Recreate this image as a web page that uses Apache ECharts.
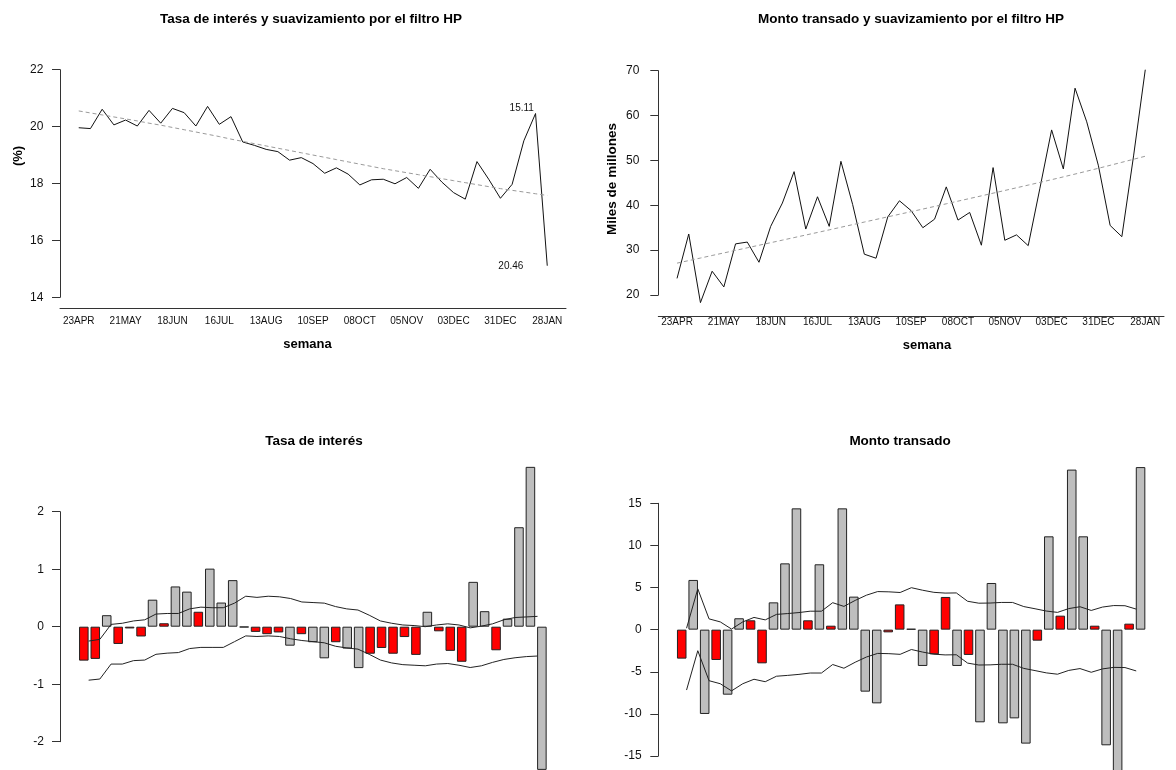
<!DOCTYPE html>
<html><head><meta charset="utf-8">
<script src="https://cdn.jsdelivr.net/npm/echarts@6/dist/echarts.min.js"></script>
<style>html,body{margin:0;padding:0;background:#fff}#c{width:1176px;height:770px}</style>
</head><body><div id="c"></div>
<script>
// Tick labels (every 4 weeks)
const tickLabels = ['23APR','21MAY','18JUN','16JUL','13AUG','10SEP','08OCT','05NOV','03DEC','31DEC','28JAN'];
const tickStep = 4;

// Tasa de interés (%) y tendencia HP
const tasa = [19.96,19.93,20.61,20.06,20.23,20.02,20.57,20.12,20.64,20.49,20.02,20.71,20.08,20.35,19.46,19.34,19.20,19.12,18.82,18.91,18.70,18.36,18.55,18.33,17.95,18.13,18.15,17.99,18.21,17.83,18.50,18.05,17.68,17.45,18.77,18.15,17.48,17.97,19.50,20.46,15.11];
const tasaHP = [20.55,20.48,20.41,20.34,20.27,20.20,20.12,20.05,19.97,19.89,19.81,19.73,19.65,19.56,19.48,19.40,19.32,19.24,19.16,19.08,19.00,18.92,18.84,18.76,18.68,18.60,18.52,18.45,18.38,18.31,18.24,18.17,18.10,18.03,17.96,17.89,17.82,17.76,17.70,17.64,17.58];

// Monto transado (miles de millones) y tendencia HP
const monto = [23.7,33.6,18.3,25.3,21.8,31.4,31.8,27.3,35.3,40.5,47.5,34.7,41.9,35.3,49.8,40.2,29.1,28.2,37.4,41.0,38.8,35.0,36.9,44.1,36.7,38.4,31.1,48.4,32.2,33.4,31.0,43.8,56.8,48.1,66.1,58.6,48.8,35.5,33.0,51.0,70.22];
const montoHP = [27.10,27.67,28.24,28.81,29.38,29.95,30.52,31.09,31.66,32.23,32.80,33.37,33.94,34.52,35.10,35.68,36.26,36.84,37.42,38.00,38.58,39.16,39.74,40.33,40.92,41.51,42.10,42.70,43.30,43.90,44.50,45.10,45.71,46.33,46.96,47.60,48.25,48.91,49.58,50.26,50.93];

// Ciclo de la tasa y bandas
const cicloTasa = [-0.59,-0.56,0.20,-0.30,-0.03,-0.17,0.47,0.06,0.70,0.61,0.26,1.01,0.42,0.81,-0.01,-0.09,-0.13,-0.10,-0.33,-0.13,-0.27,-0.55,-0.27,-0.38,-0.72,-0.47,-0.37,-0.47,-0.18,-0.49,0.26,-0.08,-0.42,-0.61,0.78,0.27,-0.41,0.14,1.73,2.78,-2.49];
const bandaTasaSup = [-0.25,-0.22,0.04,0.06,0.10,0.12,0.22,0.23,0.23,0.31,0.34,0.33,0.33,0.41,0.53,0.51,0.53,0.52,0.49,0.43,0.42,0.41,0.35,0.31,0.29,0.20,0.10,0.06,0.03,0.02,0.00,0.03,0.05,0.03,-0.02,0.01,0.05,0.12,0.16,0.17,0.18];
const bandaTasaInf = [-0.93,-0.91,-0.65,-0.65,-0.59,-0.58,-0.48,-0.46,-0.45,-0.38,-0.36,-0.36,-0.36,-0.26,-0.16,-0.17,-0.16,-0.17,-0.21,-0.24,-0.26,-0.28,-0.34,-0.37,-0.39,-0.48,-0.58,-0.63,-0.66,-0.67,-0.68,-0.65,-0.64,-0.67,-0.71,-0.68,-0.62,-0.57,-0.54,-0.52,-0.51];
const fueraTasa = [2,6,8,9,11,12,13,18,20,21,23,24,30,34,35,37,38,39,40];

// Ciclo del monto y bandas
const cicloMonto = [-3.44,5.90,-10.01,-3.60,-7.72,1.35,1.11,-4.00,3.24,7.87,14.40,1.11,7.76,0.47,14.40,3.92,-7.36,-8.75,-0.32,3.00,0.10,-4.31,-2.93,3.88,-4.31,-3.00,-11.00,5.54,-11.12,-10.53,-13.53,-1.31,11.08,1.66,19.00,11.08,0.47,-13.73,-16.80,0.71,19.30];
const bandaMontoSup = [0.17,4.84,1.28,0.92,0.07,0.92,1.45,1.16,1.81,1.91,2.03,2.19,2.19,3.20,2.76,3.47,4.09,4.52,4.49,4.41,4.98,4.68,4.43,4.34,4.36,3.37,3.14,3.16,3.23,3.23,2.74,2.48,2.21,2.05,2.50,2.72,2.28,2.68,2.86,2.84,2.44];
const bandaMontoInf = [-7.17,-2.50,-6.06,-6.42,-7.27,-6.42,-5.89,-6.18,-5.53,-5.43,-5.31,-5.15,-5.15,-4.14,-4.58,-3.87,-3.25,-2.82,-2.85,-2.93,-2.36,-2.66,-2.91,-3.00,-2.98,-3.97,-4.20,-4.18,-4.11,-4.11,-4.60,-4.86,-5.13,-5.29,-4.84,-4.62,-5.06,-4.66,-4.48,-4.50,-4.90];
const fueraMonto = [1,2,4,5,8,9,10,12,14,15,16,17,21,24,26,27,28,29,30,32,34,35,37,38,40];

// ---------- build ----------
const idx = a => a.map((v, i) => [i, v]);
const bandPts = a => a.map((v, j) => [0.42 + 0.98 * j, v]);
const dentro = (a, f) => a.map((v, i) => f.includes(i) ? null : v);
const fuera = (a, f) => a.map((v, i) => f.includes(i) ? v : null);
const cats = cicloTasa.map((_, i) => String(i));
const tickVals = tickLabels.map((_, k) => k * tickStep);

const FONT = "'Liberation Sans', Arial, sans-serif";
const AX = '#333';

function topX(grid, offset, margin) {
  return {
    type: 'value', gridIndex: grid, min: -1.6, max: 41.6, offset: offset,
    axisLine: { show: true, onZero: false, lineStyle: { color: AX, width: 1 } },
    axisTick: { show: false }, splitLine: { show: false },
    axisLabel: { customValues: tickVals, formatter: v => tickLabels[Math.round(v / tickStep)], margin: margin,
      fontFamily: FONT, fontSize: 10, color: '#111' }
  };
}
function yAx(grid, min, max, interval, offset, margin) {
  return {
    type: 'value', gridIndex: grid, min: min, max: max, interval: interval, offset: offset,
    axisLine: { show: true, onZero: false, lineStyle: { color: AX, width: 1 } },
    axisTick: { show: true, length: 8, lineStyle: { color: AX } },
    splitLine: { show: false },
    axisLabel: { margin: margin, fontFamily: FONT, fontSize: 12, color: '#111' }
  };
}
const hiddenCat = g => ({ type: 'category', gridIndex: g, data: cats, show: false, boundaryGap: true });
const hiddenVal = g => ({ type: 'value', gridIndex: g, min: -0.5, max: 40.5, show: false, splitLine: { show: false } });

function lineS(x, y, data, color, dash) {
  return { type: 'line', xAxisIndex: x, yAxisIndex: y, data: data, symbol: 'none', clip: false, silent: true,
    lineStyle: { color: color, width: 1, type: dash || 'solid' } };
}
function barS(x, y, data, color) {
  return { type: 'bar', xAxisIndex: x, yAxisIndex: y, data: data, barWidth: '83.3%', barGap: '-100%', clip: false, silent: true,
    itemStyle: { color: color, borderColor: '#222', borderWidth: 1 } };
}
function mp(items) {
  return { symbol: 'circle', symbolSize: 0, silent: true,
    label: { show: true, position: 'inside', formatter: p => p.name, fontFamily: FONT, fontSize: 10, color: '#111' },
    data: items.map(it => ({ name: it.t, coord: it.c })) };
}

const tasaLine = lineS(0, 0, idx(tasa), '#111');
tasaLine.markPoint = mp([
  { t: tasa[tasa.length - 1].toFixed(2), c: [37.82, 20.66] },
  { t: tasa[tasa.length - 2].toFixed(2), c: [36.89, 15.08] }
]);
const montoLine = lineS(1, 1, idx(monto), '#111');
montoLine.markPoint = mp([
  { t: monto[monto.length - 1].toFixed(2), c: [37.88, 70.16] },
  { t: montoHP[montoHP.length - 1].toFixed(2), c: [36.86, 18.15] }
]);

const bold = (t, x, y, size, rot) => ({ type: 'text', x: x, y: y, rotation: rot || 0, silent: true,
  style: { text: t, font: 'bold ' + size + 'px ' + FONT, fill: '#000', textAlign: 'center', textVerticalAlign: 'middle' } });

const option = {
  animation: false,
  backgroundColor: '#fff',
  grid: [
    { left: 60, top: 69.7, width: 506, height: 227.6 },
    { left: 658.3, top: 70.7, width: 505.7, height: 224.3 },
    { left: 78.1, top: 511.7, width: 469.5, height: 230 },
    { left: 676, top: 503.3, width: 470.3, height: 252.7 }
  ],
  xAxis: [topX(0, 10.7, 8), topX(1, 21, 1), hiddenCat(2), hiddenVal(2), hiddenCat(3), hiddenVal(3)],
  yAxis: [yAx(0, 14, 22, 2, 0, 16.7), yAx(1, 20, 70, 10, 0, 19), yAx(2, -2, 2, 1, 18.1, 16), yAx(3, -15, 15, 5, 17.7, 16.6)],
  series: [
    tasaLine,
    lineS(0, 0, idx(tasaHP), '#9a9a9a', [4, 3]),
    montoLine,
    lineS(1, 1, idx(montoHP), '#9a9a9a', [4, 3]),
    barS(2, 2, dentro(cicloTasa, fueraTasa), '#ff0000'),
    barS(2, 2, fuera(cicloTasa, fueraTasa), '#bebebe'),
    lineS(3, 2, bandPts(bandaTasaSup), '#222'),
    lineS(3, 2, bandPts(bandaTasaInf), '#222'),
    barS(4, 3, dentro(cicloMonto, fueraMonto), '#ff0000'),
    barS(4, 3, fuera(cicloMonto, fueraMonto), '#bebebe'),
    lineS(5, 3, bandPts(bandaMontoSup), '#222'),
    lineS(5, 3, bandPts(bandaMontoInf), '#222')
  ],
  graphic: [
    bold('Tasa de interés y suavizamiento por el filtro HP', 311, 19, 13.5),
    bold('Monto transado y suavizamiento por el filtro HP', 911, 19, 13.5),
    bold('semana', 307.5, 344, 13),
    bold('semana', 927, 345.5, 13),
    bold('(%)', 18, 156, 13, Math.PI / 2),
    bold('Miles de millones', 612.7, 179, 13.5, Math.PI / 2),
    bold('Tasa de interés', 314, 441, 13.5),
    bold('Monto transado', 900, 441, 13.5)
  ]
};
const chart = echarts.init(document.getElementById('c'), null, { renderer: 'canvas' });
chart.setOption(option);
</script></body></html>
